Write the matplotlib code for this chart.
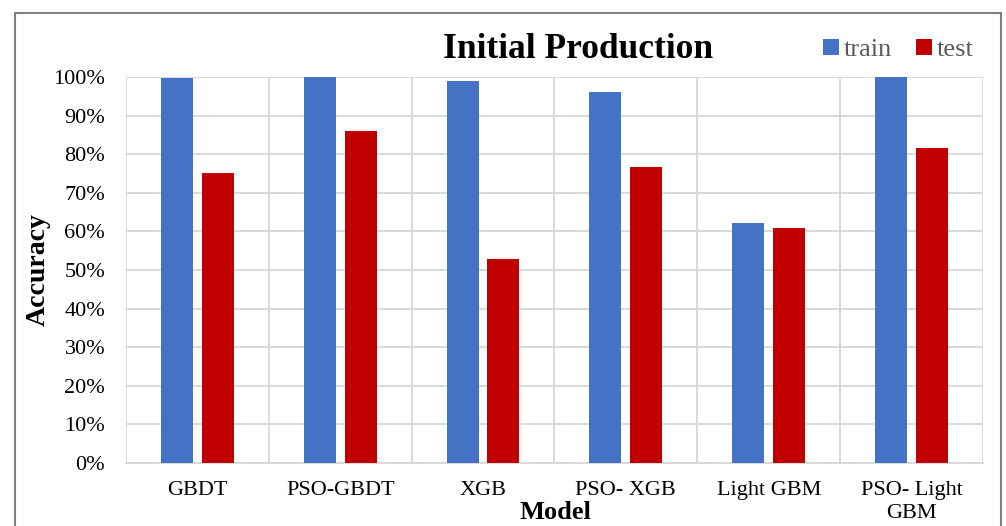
import numpy as np
import matplotlib.pyplot as plt
from matplotlib.patches import Rectangle
from matplotlib.ticker import PercentFormatter

models = ["GBDT", "PSO-GBDT", "XGB", "PSO- XGB", "Light GBM", "PSO- Light\nGBM"]
train = [99.7, 100.0, 99.0, 96.1, 62.2, 100.0]
test = [75.1, 86.0, 52.8, 76.7, 60.9, 81.6]

plt.rcParams['font.family'] = ['Liberation Serif', 'DejaVu Serif']

fig = plt.figure(figsize=(10.06, 5.26), dpi=100)
ax = fig.add_axes([0.1252, 0.1198, 0.8519, 0.7338])

x = np.arange(len(models))
w = 0.224
ax.bar(x - 0.143, train, w, color="#4472C4", label="train", zorder=3)
ax.bar(x + 0.143, test, w, color="#C00000", label="test", zorder=3)

ax.set_xlim(-0.5, len(models) - 0.5)
ax.set_ylim(0, 100)
ax.set_yticks(np.arange(0, 101, 10))
ax.yaxis.set_major_formatter(PercentFormatter(decimals=0))
ax.set_xticks(x)
ax.set_xticklabels(models, linespacing=1.3)
ax.set_xticks(np.arange(-0.5, len(models)), minor=True)
ax.grid(True, axis='y', color="#d9d9d9", linewidth=1.4, zorder=0)
ax.grid(True, axis='x', which='minor', color="#d9d9d9", linewidth=1.4, zorder=0)
ax.tick_params(axis='both', which='both', length=0, labelsize=16)
ax.tick_params(axis='x', pad=13)
ax.tick_params(axis='y', pad=15)
for s in ['top', 'right', 'left']:
    ax.spines[s].set_visible(False)
ax.spines['bottom'].set_color("#d9d9d9")
ax.spines['bottom'].set_linewidth(1.4)

ax.set_ylabel("Accuracy", fontsize=20, fontweight='bold')
ax.yaxis.set_label_coords(-0.088, 0.5)
fig.text(0.552, 0.003, "Model", fontsize=19, fontweight='bold', ha='center', va='bottom')
fig.text(0.5746, 0.905, "Initial Production", fontsize=25.5, fontweight='bold',
         ha='center', va='center')

leg = fig.legend(loc='center', bbox_to_anchor=(0.893, 0.905), ncol=2, frameon=False,
                 fontsize=19, handlelength=0.6, handleheight=0.6, handletextpad=0.2,
                 columnspacing=0.9)
for t in leg.get_texts():
    t.set_color("#595959")

fig.patches.append(Rectangle((15 / 1006, -0.1), (1001 - 15) / 1006, 1.1 - 13 / 526,
                             transform=fig.transFigure, fill=False,
                             edgecolor="#7f7f7f", linewidth=1.5))

fig.savefig("out.png", dpi=100)
